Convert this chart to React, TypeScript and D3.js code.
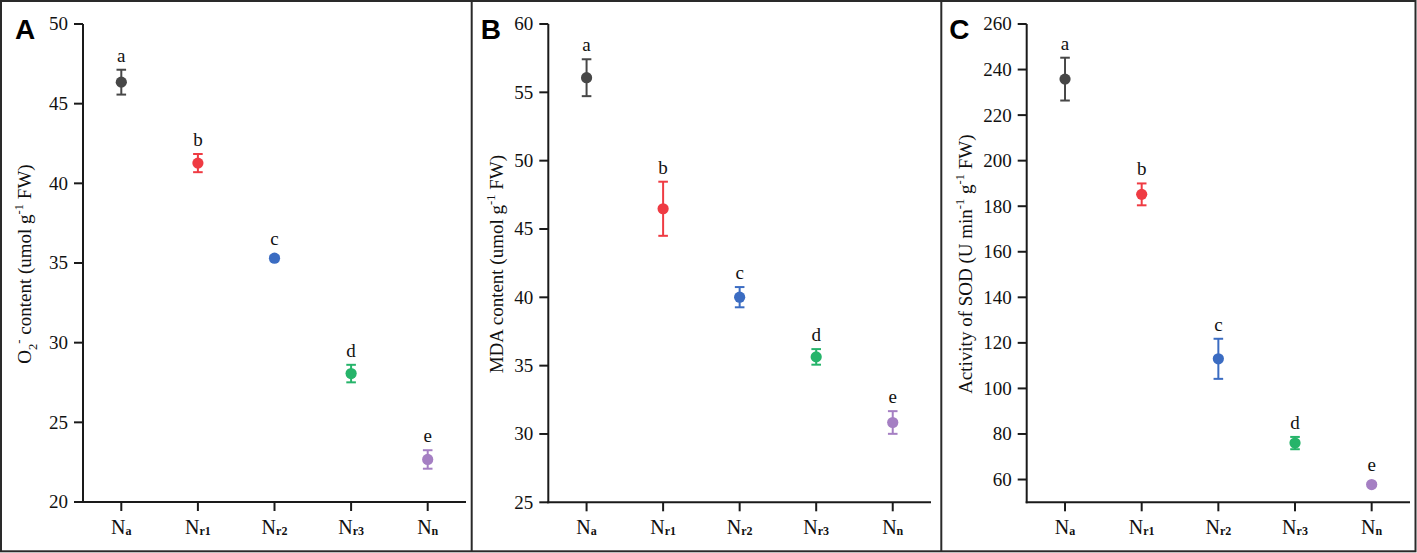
import React from "react";
import * as d3 from "d3";

// ---------- data ----------
const categoryMain = "N";
const categorySubs = ["a", "r1", "r2", "r3", "n"];
const categories = ["Na", "Nr1", "Nr2", "Nr3", "Nn"];
const pointColors = ["#474747", "#ef3b43", "#3b6cc2", "#26b46a", "#a57fc3"];
const letters = ["a", "b", "c", "d", "e"];

const o2Mean = [46.35, 41.27, 35.3, 28.06, 22.67];
const o2Err = [0.78, 0.57, 0.15, 0.55, 0.58];
const o2Ticks = [20, 25, 30, 35, 40, 45, 50];

const mdaMean = [56.07, 46.48, 40.01, 35.64, 30.84];
const mdaErr = [1.35, 1.98, 0.74, 0.57, 0.83];
const mdaTicks = [25, 30, 35, 40, 45, 50, 55, 60];

const sodMean = [235.8, 185.2, 113.0, 76.0, 57.8];
const sodErr = [9.4, 4.8, 8.8, 2.7, 0.6];
const sodTicks = [60, 80, 100, 120, 140, 160, 180, 200, 220, 240, 260];

type Seg = { t: string; k?: "sub" | "sup" };

const o2Title: Seg[] = [
  { t: "O" }, { t: "2", k: "sub" }, { t: "-", k: "sup" },
  { t: " content (umol g" }, { t: "-1", k: "sup" }, { t: " FW)" },
];
const mdaTitle: Seg[] = [
  { t: "MDA content (umol g" }, { t: "-1", k: "sup" }, { t: " FW)" },
];
const sodTitle: Seg[] = [
  { t: "Activity of SOD (U min" }, { t: "-1", k: "sup" }, { t: " g" },
  { t: "-1", k: "sup" }, { t: " FW)" },
];

// ---------- layout ----------
const W = 1417;
const H = 553;
const SERIF = "'Liberation Serif', 'Times New Roman', Times, serif";
const SANS = "'Liberation Sans', Arial, Helvetica, sans-serif";
const AXIS = "#1a1a1a";

type PanelCfg = {
  letter: string;
  mean: number[];
  err: number[];
  ticks: number[];
  domain: [number, number];
  title: Seg[];
  x0: number;
  x1: number;
  yTop: number;
  yBot: number;
  titleX: number;
  letterX: number;
};

const panels: PanelCfg[] = [
  { letter: "A", mean: o2Mean, err: o2Err, ticks: o2Ticks, domain: [20, 50], title: o2Title,
    x0: 83, x1: 466, yTop: 24, yBot: 502, titleX: 31, letterX: 15 },
  { letter: "B", mean: mdaMean, err: mdaErr, ticks: mdaTicks, domain: [25, 60], title: mdaTitle,
    x0: 548.3, x1: 931, yTop: 24, yBot: 502.3, titleX: 503, letterX: 480.7 },
  { letter: "C", mean: sodMean, err: sodErr, ticks: sodTicks, domain: [50, 260], title: sodTitle,
    x0: 1026.7, x1: 1410, yTop: 24, yBot: 502.3, titleX: 972, letterX: 949.3 },
];

function renderSegs(segs: Seg[], fs: number) {
  let cur = 0;
  return segs.map((s, i) => {
    const target = s.k === "sub" ? fs * 0.3 : s.k === "sup" ? -fs * 0.42 : 0;
    const dy = target - cur;
    cur = target;
    return (
      <tspan key={i} dy={dy} fontSize={s.k ? fs * 0.66 : fs}>
        {s.t}
      </tspan>
    );
  });
}

function Panel({ p }: { p: PanelCfg }) {
  const x = d3.scalePoint<string>().domain(categories).range([p.x0, p.x1]).padding(0.5);
  const y = d3.scaleLinear().domain(p.domain).range([p.yBot, p.yTop]);
  const tickLen = 9;
  const r = 5.6;
  const cap = 4.8;
  const midY = (p.yTop + p.yBot) / 2 + 1;
  return (
    <g>
      {/* panel letter */}
      <text x={p.letterX} y={39} fontFamily={SANS} fontWeight="bold" fontSize={28} fill="#000">
        {p.letter}
      </text>
      {/* y axis */}
      <line x1={p.x0} x2={p.x0} y1={p.yTop} y2={p.yBot + 1} stroke={AXIS} strokeWidth={2} />
      {p.ticks.map((t) => (
        <g key={t}>
          <line x1={p.x0 - tickLen} x2={p.x0} y1={y(t)} y2={y(t)} stroke={AXIS} strokeWidth={2} />
          <text x={p.x0 - tickLen - 6} y={y(t)} dy="0.34em" textAnchor="end"
            fontFamily={SERIF} fontSize={19} fill="#111">
            {t}
          </text>
        </g>
      ))}
      {/* x axis */}
      <line x1={p.x0 - 1} x2={p.x1} y1={p.yBot} y2={p.yBot} stroke={AXIS} strokeWidth={2} />
      {categories.map((c, i) => (
        <g key={c}>
          <line x1={x(c)!} x2={x(c)!} y1={p.yBot} y2={p.yBot + tickLen} stroke={AXIS} strokeWidth={2} />
          <text x={x(c)!} y={534} textAnchor="middle" fontFamily={SERIF} fill="#111">
            <tspan fontSize={20}>{categoryMain}</tspan>
            <tspan fontSize={12} fontWeight="bold" dy={1}>{categorySubs[i]}</tspan>
          </text>
        </g>
      ))}
      {/* y title */}
      <text transform={`translate(${p.titleX},${midY}) rotate(-90)`} textAnchor="middle"
        fontFamily={SERIF} fill="#111">
        {renderSegs(p.title, 19)}
      </text>
      {/* error bars + points */}
      {categories.map((c, i) => {
        const cx = x(c)!;
        const hi = y(p.mean[i] + p.err[i]);
        const lo = y(p.mean[i] - p.err[i]);
        const cy = y(p.mean[i]);
        const col = pointColors[i];
        const labelY = Math.min(hi, cy - r) - 8;
        return (
          <g key={c}>
            <line x1={cx} x2={cx} y1={hi} y2={lo} stroke={col} strokeWidth={2} />
            <line x1={cx - cap} x2={cx + cap} y1={hi} y2={hi} stroke={col} strokeWidth={2} />
            <line x1={cx - cap} x2={cx + cap} y1={lo} y2={lo} stroke={col} strokeWidth={2} />
            <circle cx={cx} cy={cy} r={r} fill={col} />
            <text x={cx} y={labelY} textAnchor="middle" fontFamily={SERIF} fontSize={19} fill="#111">
              {letters[i]}
            </text>
          </g>
        );
      })}
    </g>
  );
}

export default function App() {
  return (
    <svg width={W} height={H} viewBox={`0 0 ${W} ${H}`}
      style={{ position: "fixed", left: 0, top: 0, display: "block", background: "#fff" }}>
      <rect x={0} y={0} width={W} height={H} fill="#fff" />
      <rect x={1} y={1} width={1414.5} height={550.3} fill="none" stroke="#2a2a2a" strokeWidth={2} />
      <line x1={471.7} x2={471.7} y1={1} y2={551} stroke="#2a2a2a" strokeWidth={2} />
      <line x1={941.3} x2={941.3} y1={1} y2={551} stroke="#2a2a2a" strokeWidth={2} />
      {panels.map((p) => (
        <Panel key={p.letter} p={p} />
      ))}
    </svg>
  );
}
